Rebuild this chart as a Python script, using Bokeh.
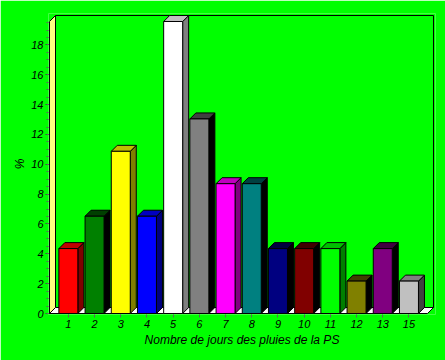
from bokeh.plotting import figure
from bokeh.models import ColumnDataSource, FixedTicker
from bokeh.embed import file_html
from bokeh.resources import INLINE

# ---- data ----
categories = ["1", "2", "3", "4", "5", "6", "7", "8", "9", "10", "11", "12", "13", "15"]
values = [4.35, 6.52, 10.87, 6.52, 19.57, 13.04, 8.70, 8.70, 4.35, 4.35, 4.35, 2.17, 4.35, 2.17]
colors = ["#FF0000", "#008000", "#FFFF00", "#0000FF", "#FFFFFF", "#808080", "#FF00FF",
          "#008080", "#000080", "#800000", "#00FF00", "#808000", "#800080", "#C0C0C0"]
y_ticks = [0, 2, 4, 6, 8, 10, 12, 14, 16, 18]
x_label = "Nombre de jours des pluies de la PS"
y_label = "%"

# ---- layout / style constants ----
W, H = 445, 360
FL, FR, FT, FB = 48, 435, 13, 314          # frame edges in px
ORIGIN_X_PX, ORIGIN_Y_PX = 49, 313         # front-left floor corner
WALL_RIGHT_PX, WALL_TOP_PX = 433, 15       # back wall extent
DEPTH = 6                                  # 3D depth in px
PPX = 26.2                                 # px per category
PPY = 14.92                                # px per unit
FRONT_LEFT = -0.72
BAR_W = 0.725
BG = "#00FF00"

x_start = FRONT_LEFT - (ORIGIN_X_PX - FL) / PPX
x_end = x_start + (FR - FL) / PPX
y_start = -(FB - ORIGIN_Y_PX) / PPY
y_end = y_start + (FB - FT) / PPY
DX = DEPTH / PPX
DY = DEPTH / PPY
X_FRONT_RIGHT = FRONT_LEFT + (WALL_RIGHT_PX - DEPTH - ORIGIN_X_PX) / PPX
Y_TOP = (ORIGIN_Y_PX - WALL_TOP_PX) / PPY


def darken(hx, amt):
    r, g, b = int(hx[1:3], 16), int(hx[3:5], 16), int(hx[5:7], 16)
    return "#%02X%02X%02X" % (max(r - amt, 0), max(g - amt, 0), max(b - amt, 0))


p = figure(width=W, height=H, x_range=(x_start, x_end), y_range=(y_start, y_end),
           output_backend="svg", toolbar_location=None,
           min_border_left=FL, min_border_right=W - FR,
           min_border_top=FT, min_border_bottom=H - FB,
           background_fill_color=BG, border_fill_color=BG, outline_line_color=None)
p.grid.visible = False

# floor
p.patch([FRONT_LEFT, X_FRONT_RIGHT, X_FRONT_RIGHT + DX, FRONT_LEFT + DX],
        [0, 0, DY, DY], fill_color="#FFFFFF", line_color="black", line_width=1)
# left wall
p.patch([FRONT_LEFT, FRONT_LEFT + DX, FRONT_LEFT + DX, FRONT_LEFT],
        [0, DY, Y_TOP, Y_TOP - DY], fill_color="#FFFF80", line_color="black", line_width=1)
# back wall outline
p.line([FRONT_LEFT + DX, X_FRONT_RIGHT + DX, X_FRONT_RIGHT + DX],
       [Y_TOP, Y_TOP, DY], line_color="black", line_width=1)

# bars
fx, fy, sx, sy, tx, ty, fc, sc, tc = [], [], [], [], [], [], [], [], []
for i, (v, c) in enumerate(zip(values, colors)):
    xl, xr = i - BAR_W / 2, i + BAR_W / 2
    fx.append([xl, xr, xr, xl]); fy.append([0, 0, v, v])
    sx.append([xr, xr + DX, xr + DX, xr]); sy.append([0, DY, v + DY, v])
    tx.append([xl, xr, xr + DX, xl + DX]); ty.append([v, v, v + DY, v + DY])
    fc.append(c); sc.append(darken(c, 0x80)); tc.append(darken(c, 0x40))

src = ColumnDataSource(dict(fx=fx, fy=fy, sx=sx, sy=sy, tx=tx, ty=ty, fc=fc, sc=sc, tc=tc))
p.patches("sx", "sy", source=src, fill_color="sc", line_color="black", line_width=1)
p.patches("tx", "ty", source=src, fill_color="tc", line_color="black", line_width=1)
p.patches("fx", "fy", source=src, fill_color="fc", line_color="black", line_width=1)

FONT = "Liberation Sans"
# x axis
xa = p.xaxis[0]
xa.ticker = FixedTicker(ticks=list(range(len(categories))))
xa.major_label_overrides = {i: c for i, c in enumerate(categories)}
xa.axis_line_color = None
xa.major_tick_in = 0
xa.major_tick_out = 3
xa.minor_tick_line_color = None
xa.major_tick_line_color = "#606060"
xa.major_label_standoff = 2
xa.major_label_text_font = FONT
xa.major_label_text_font_style = "italic"
xa.major_label_text_font_size = "11px"
xa.major_label_text_color = "black"
xa.axis_label = x_label
xa.axis_label_text_font = FONT
xa.axis_label_text_font_style = "italic"
xa.axis_label_text_font_size = "12px"
xa.axis_label_text_color = "black"
xa.axis_label_standoff = 2

# y axis
ya = p.yaxis[0]
ya.ticker = FixedTicker(ticks=y_ticks, minor_ticks=[k * 0.5 for k in range(0, 40)])
ya.axis_line_color = None
ya.major_tick_in = 0
ya.major_tick_out = 3
ya.minor_tick_in = 0
ya.minor_tick_out = 2
ya.major_tick_line_color = "#404040"
ya.minor_tick_line_color = "#606060"
ya.major_label_standoff = 2
ya.major_label_text_font = FONT
ya.major_label_text_font_style = "italic"
ya.major_label_text_font_size = "11px"
ya.major_label_text_color = "black"
ya.axis_label = y_label
ya.axis_label_text_font = FONT
ya.axis_label_text_font_style = "italic"
ya.axis_label_text_font_size = "12px"
ya.axis_label_text_color = "black"
ya.axis_label_standoff = 1

open("out.html", "w").write(file_html(p, INLINE))
